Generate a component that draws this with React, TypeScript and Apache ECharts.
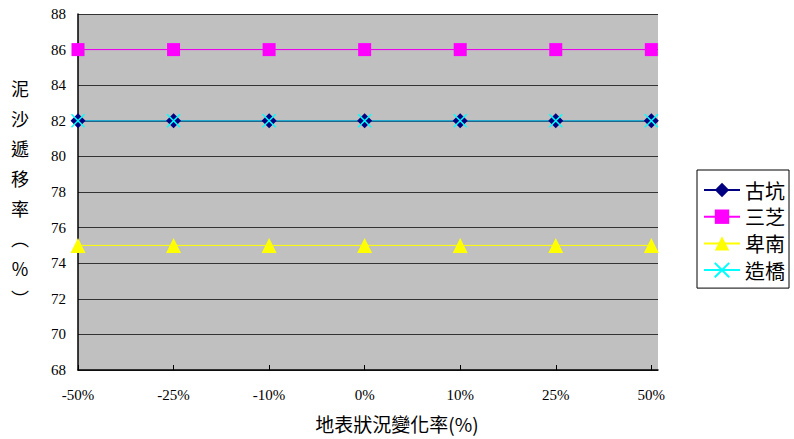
import React, { useEffect, useRef } from "react";
import * as echarts from "echarts";

// 地表狀況變化率 categories and 泥沙遞移率 (%) per watershed
const categories = ["-50%", "-25%", "-10%", "0%", "10%", "25%", "50%"];
const gukeng = [82, 82, 82, 82, 82, 82, 82];
const sanzhi = [86, 86, 86, 86, 86, 86, 86];
const beinan = [75, 75, 75, 75, 75, 75, 75];
const zaoqiao = [82, 82, 82, 82, 82, 82, 82];

const yMin = 68;
const yMax = 88;
const yStep = 2;

const serif = "'Liberation Serif', 'Times New Roman', serif";
const cjk = "'Noto Sans CJK TC', 'Noto Sans CJK SC', sans-serif";

const toPoints = (vals: number[]) => vals.map((v, i) => [i, v]);
const catIdx = categories.map((_, i) => i);

export default function App() {
  const ref = useRef<HTMLDivElement>(null);

  useEffect(() => {
    document.body.style.margin = "0";
    if (!ref.current) return;
    const chart = echarts.init(ref.current, undefined, { renderer: "svg" });

    const crossPath = "path://M0,0L10,10M10,0L0,10";

    chart.setOption({
      animation: false,
      backgroundColor: "#ffffff",
      grid: {
        left: 78,
        top: 14,
        right: 136,
        bottom: 69,
        show: true,
        backgroundColor: "#C0C0C0",
        borderWidth: 0,
      },
      xAxis: {
        type: "value",
        min: 0,
        max: 6.07,
        interval: 1,
        axisLine: { show: true, lineStyle: { color: "#000", width: 1.5 } },
        axisTick: {
          show: true,
          inside: true,
          length: 5,
          customValues: catIdx,
          lineStyle: { color: "#000" },
        },
        axisLabel: {
          customValues: catIdx,
          formatter: (v: number) => categories[Math.round(v)] ?? "",
          color: "#000",
          fontFamily: serif,
          fontSize: 15,
          margin: 17,
        },
        splitLine: { show: false },
      },
      yAxis: {
        type: "value",
        min: yMin,
        max: yMax,
        interval: yStep,
        axisLine: { show: true, lineStyle: { color: "#000", width: 1.5 } },
        axisTick: { show: false },
        axisLabel: {
          color: "#000",
          fontFamily: serif,
          fontSize: 15,
          margin: 12,
        },
        splitLine: { show: true, lineStyle: { color: "#333333", width: 1 } },
      },
      legend: {
        orient: "vertical",
        left: 697,
        top: 170,
        padding: [10, 4, 8, 6],
        itemGap: 6.7,
        itemWidth: 36,
        itemHeight: 18,
        backgroundColor: "#ffffff",
        borderColor: "#000000",
        borderWidth: 1,
        borderRadius: 0,
        textStyle: {
          color: "#000",
          fontFamily: cjk,
          fontSize: 20,
          lineHeight: 20,
        },
        data: [
          "古坑",
          "三芝",
          "卑南",
          { name: "造橋", lineStyle: { color: "#00FFFF" } },
        ],
      },
      graphic: [
        {
          type: "text",
          left: 11,
          top: 73,
          style: {
            text: "泥\n沙\n遞\n移\n率\n︵\n％\n︶",
            fontFamily: cjk,
            fontSize: 18,
            lineHeight: 30,
            fill: "#000",
            align: "center",
          },
        },
        {
          type: "text",
          left: "center",
          top: 414,
          style: {
            text: "地表狀況變化率(%)",
            fontFamily: cjk,
            fontSize: 19,
            fill: "#000",
          },
        },
      ],
      series: [
        {
          name: "古坑",
          type: "line",
          data: toPoints(gukeng),
          symbol: "diamond",
          symbolSize: 15,
          itemStyle: { color: "#000080" },
          lineStyle: { color: "#000080", width: 1 },
        },
        {
          name: "三芝",
          type: "line",
          data: toPoints(sanzhi),
          symbol: "rect",
          symbolSize: 13,
          itemStyle: { color: "#FF00FF" },
          lineStyle: { color: "#FF00FF", width: 1 },
        },
        {
          name: "卑南",
          type: "line",
          data: toPoints(beinan),
          symbol: "triangle",
          symbolSize: 15,
          itemStyle: { color: "#FFFF00" },
          lineStyle: { color: "#FFFF00", width: 1 },
        },
        {
          name: "造橋",
          type: "line",
          data: toPoints(zaoqiao),
          symbol: crossPath,
          symbolSize: 13,
          itemStyle: { color: "none", borderColor: "#00FFFF", borderWidth: 1.5 },
          lineStyle: { color: "#22A8CC", width: 1.5 },
        },
      ],
    });

    return () => chart.dispose();
  }, []);

  return <div ref={ref} style={{ width: 794, height: 439 }} />;
}
